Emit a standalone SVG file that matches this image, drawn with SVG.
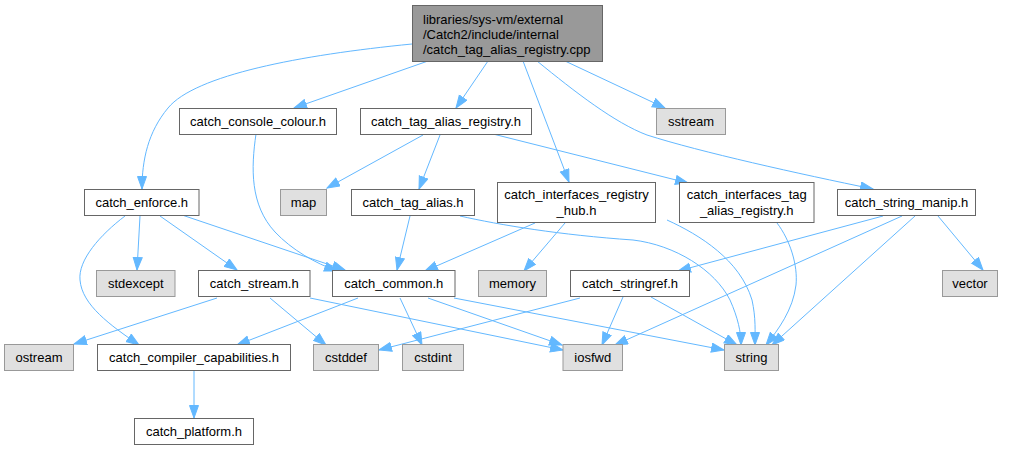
<svg xmlns="http://www.w3.org/2000/svg" width="1030" height="450" viewBox="0 0 1030 450">
<defs>
<style>
.n rect{fill:#ffffff;stroke:#666666;stroke-width:1}
.x rect{fill:#e0e0e0;stroke:#999999;stroke-width:1}
.r rect{fill:#999999;stroke:#666666;stroke-width:1}
text{font-family:"Liberation Sans",Arial,sans-serif;font-size:13px;fill:#000000}
.c text{text-anchor:middle}
#edges path{fill:none;stroke:#63b8ff;stroke-width:1;marker-end:url(#ah)}
</style>
<marker id="ah" markerUnits="userSpaceOnUse" markerWidth="14" markerHeight="11" refX="13" refY="5" orient="auto">
<path d="M0.5,0.5 L13,5 L0.5,9.5 z" fill="#63b8ff" stroke="#63b8ff" stroke-width="1"/>
</marker>
</defs>
<rect x="0" y="0" width="1030" height="450" fill="#ffffff"/>
<g id="edges">
<path d="M412,44 C300,55 195,75 168,108 C148,132 142,160 142,189"/>
<path d="M428,61 L294,108"/>
<path d="M488,61 L456,108"/>
<path d="M523,61 L569,182"/>
<path d="M565,61 L665,108"/>
<path d="M537,61 C575,92 615,123 647,135 C700,152 800,174 873,189"/>
<path d="M256,134 C251,168 250,205 275,232 C292,250 315,263 337,271"/>
<path d="M423,135 L327,188"/>
<path d="M440,135 L419,189"/>
<path d="M493,134 L688,183"/>
<path d="M140,216 L137,270"/>
<path d="M160,216 L237,270"/>
<path d="M182,215 L345,270"/>
<path d="M125,216 C100,235 78,260 80,280 C82,305 110,325 139,345"/>
<path d="M410,216 L397,270"/>
<path d="M460,216 C500,225 560,235 633,240 C675,245 715,270 730,300 C738,318 741,332 741,345"/>
<path d="M535,223 L425,271"/>
<path d="M565,223 L524,271"/>
<path d="M667,220 C700,235 740,260 752,300 C756,318 755,332 755,345"/>
<path d="M777,223 C790,240 798,265 796,285 C793,310 778,330 766,345"/>
<path d="M883,216 L678,271"/>
<path d="M902,216 L615,345"/>
<path d="M915,216 L772,345"/>
<path d="M938,216 L983,270"/>
<path d="M217,298 L74,344"/>
<path d="M270,298 L326,345"/>
<path d="M310,298 L563,350"/>
<path d="M358,298 L237,345"/>
<path d="M400,298 L422,345"/>
<path d="M428,298 L562,345"/>
<path d="M454,298 L724,350"/>
<path d="M580,298 L379,350"/>
<path d="M623,297 L602,345"/>
<path d="M651,297 L737,345"/>
<path d="M194,371 L194,418"/>
</g>
<g id="root" class="r"><rect x="412.5" y="5.5" width="190" height="56"/>
<text x="423" y="23.5">libraries/sys-vm/external</text>
<text x="423" y="38.5">/Catch2/include/internal</text>
<text x="423" y="53.5">/catch_tag_alias_registry.cpp</text></g>
<g id="sstream" class="x c"><rect x="656.5" y="108.5" width="69" height="26"/><text x="691" y="126">sstream</text></g>
<g id="catch_tag_alias_registry_h" class="n c"><rect x="360.5" y="108.5" width="171" height="26"/><text x="446" y="126">catch_tag_alias_registry.h</text></g>
<g id="catch_console_colour_h" class="n c"><rect x="179.5" y="108.5" width="157" height="26"/><text x="258" y="126">catch_console_colour.h</text></g>
<g id="catch_enforce_h" class="n c"><rect x="84.5" y="189.5" width="114.5" height="26"/><text x="141.75" y="207">catch_enforce.h</text></g>
<g id="map" class="x c"><rect x="280.5" y="189.5" width="46" height="26"/><text x="303.5" y="207">map</text></g>
<g id="catch_tag_alias_h" class="n c"><rect x="351.5" y="189.5" width="123" height="26"/><text x="413" y="207">catch_tag_alias.h</text></g>
<g id="catch_interfaces_registry_hub_h" class="n c"><rect x="497.5" y="182.5" width="158" height="40"/><text x="576.5" y="199">catch_interfaces_registry</text><text x="576.5" y="215">_hub.h</text></g>
<g id="catch_interfaces_tag_alias_registry_h" class="n c"><rect x="679.5" y="182.5" width="134.5" height="40"/><text x="746.75" y="199">catch_interfaces_tag</text><text x="746.75" y="215">_alias_registry.h</text></g>
<g id="catch_string_manip_h" class="n c"><rect x="837.5" y="189.5" width="138" height="26"/><text x="906.5" y="207">catch_string_manip.h</text></g>
<g id="stdexcept" class="x c"><rect x="96.5" y="270.5" width="78.5" height="26"/><text x="135.75" y="288">stdexcept</text></g>
<g id="catch_stream_h" class="n c"><rect x="198.5" y="270.5" width="111.5" height="26"/><text x="254.25" y="288">catch_stream.h</text></g>
<g id="catch_common_h" class="n c"><rect x="332.5" y="270.5" width="122.5" height="26"/><text x="393.75" y="288">catch_common.h</text></g>
<g id="memory" class="x c"><rect x="478.5" y="270.5" width="68" height="26"/><text x="512.5" y="288">memory</text></g>
<g id="catch_stringref_h" class="n c"><rect x="570.5" y="270.5" width="119" height="26"/><text x="630" y="288">catch_stringref.h</text></g>
<g id="vector" class="x c"><rect x="942.5" y="270.5" width="55" height="26"/><text x="970" y="288">vector</text></g>
<g id="ostream" class="x c"><rect x="4.5" y="344.5" width="69" height="26"/><text x="39" y="362">ostream</text></g>
<g id="catch_compiler_capabilities_h" class="n c"><rect x="97.5" y="344.5" width="193" height="26"/><text x="194" y="362">catch_compiler_capabilities.h</text></g>
<g id="cstddef" class="x c"><rect x="313.5" y="344.5" width="65" height="26"/><text x="346" y="362">cstddef</text></g>
<g id="cstdint" class="x c"><rect x="402.5" y="344.5" width="61" height="26"/><text x="433" y="362">cstdint</text></g>
<g id="iosfwd" class="x c"><rect x="563" y="344.5" width="59.5" height="26"/><text x="592.75" y="362">iosfwd</text></g>
<g id="string" class="x c"><rect x="724.5" y="344.5" width="54" height="26"/><text x="751.5" y="362">string</text></g>
<g id="catch_platform_h" class="n c"><rect x="134.5" y="418.5" width="119" height="26"/><text x="194" y="436">catch_platform.h</text></g>
</svg>
